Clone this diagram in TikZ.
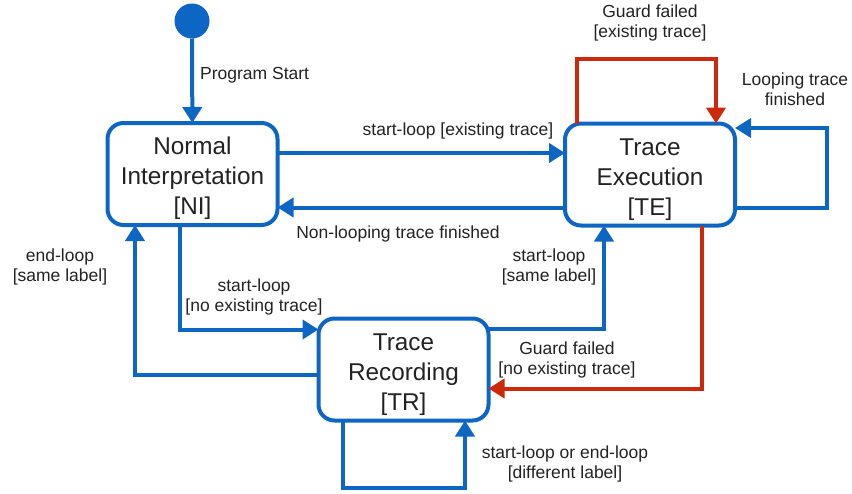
\documentclass[tikz,border=0pt]{standalone}
\usepackage{fontspec}
\setmainfont{Liberation Sans}
\usetikzlibrary{arrows.meta,calc}
\definecolor{sblue}{RGB}{14,102,196}
\definecolor{sred}{RGB}{204,40,10}
\definecolor{stext}{RGB}{34,34,34}
\newcommand{\topstrut}{\rule{0pt}{27pt}}
\tikzset{
  statebox/.style={draw=sblue, line width=4pt, rounded corners=16pt, minimum width=170pt, minimum height=102pt, align=center, inner sep=0pt, outer sep=0pt, text=stext, font=\fontsize{24.3}{30}\selectfont},
  lbl/.style={align=center, text=stext, font=\fontsize{17.5}{20.5}\selectfont, inner sep=0pt},
  barr/.style={draw=sblue, line width=4pt, -{Triangle[length=16pt,width=19pt]}},
  rarr/.style={draw=sred, line width=4pt, -{Triangle[length=16pt,width=19pt]}},
}
\begin{document}
\begin{tikzpicture}[x=1pt,y=-1pt]
\useasboundingbox (0,0) rectangle (852,493);
\node[circle, fill=sblue, minimum size=35pt, inner sep=0pt, outer sep=0pt] (S) at (192,21) {};
\node[statebox] (NI) at (192.5,174) {\topstrut Normal\\Interpretation\\{}[NI]};
\node[statebox] (TE) at (650,174.5) {\topstrut Trace\\Execution\\{}[TE]};
\node[statebox] (TR) at (403.5,369.5) {\topstrut Trace\\Recording\\{}[TR]};

% start
\draw[barr] (S) -- (NI);
\node[lbl, anchor=west] (lPS) at (200,75) {Program Start};

% NI -> TE
\draw[barr] ([yshift=21pt]NI.east) -- ([yshift=21pt]NI.east -| TE.west);
\node[lbl] (l1) at (458,131) {start-loop [existing trace]};

% TE -> NI
\draw[barr] ([yshift=-33pt]TE.west) -- ([yshift=-33pt]TE.west -| NI.east);
\node[lbl] (l2) at (398,234) {Non-looping trace finished};

% TE guard failed loop (red)
\draw[rarr] ([xshift=-73pt]TE.north) |- (716,59) -- ([xshift=66pt]TE.north);
\node[lbl] (l3) at (650,23) {Guard failed\\{}[existing trace]};

% TE looping trace finished
\draw[barr] ([yshift=-33pt]TE.east) -- (827,207.5) |- ([yshift=46.5pt]TE.east);
\node[lbl] (l4) at (795,89) {Looping trace\\finished};

% NI -> TR
\draw[barr] ([xshift=-12.5pt]NI.south) |- ([yshift=40pt]TR.west);
\node[lbl] (l5) at (254,297) {start-loop\\{}[no existing trace]};

% TR -> NI
\draw[barr] ([yshift=-5pt]TR.west) -| ([xshift=-57.5pt]NI.south);
\node[lbl] (l6) at (60,267) {end-loop\\{}[same label]};

% TR -> TE
\draw[barr] ([yshift=41pt]TR.east) -| ([xshift=-46pt]TE.south);
\node[lbl] (l7) at (549,267) {start-loop\\{}[same label]};

% TE -> TR (red)
\draw[rarr] ([xshift=52pt]TE.south) |- ([yshift=-19pt]TR.east);
\node[lbl] (l8) at (567,360) {Guard failed\\{}[no existing trace]};

% TR self loop
\draw[barr] ([xshift=-60.5pt]TR.south) -- ++(0,67.5) -| ([xshift=61.5pt]TR.south);
\node[lbl] (l9) at (565,464) {start-loop or end-loop\\{}[different label]};
\end{tikzpicture}
\end{document}
